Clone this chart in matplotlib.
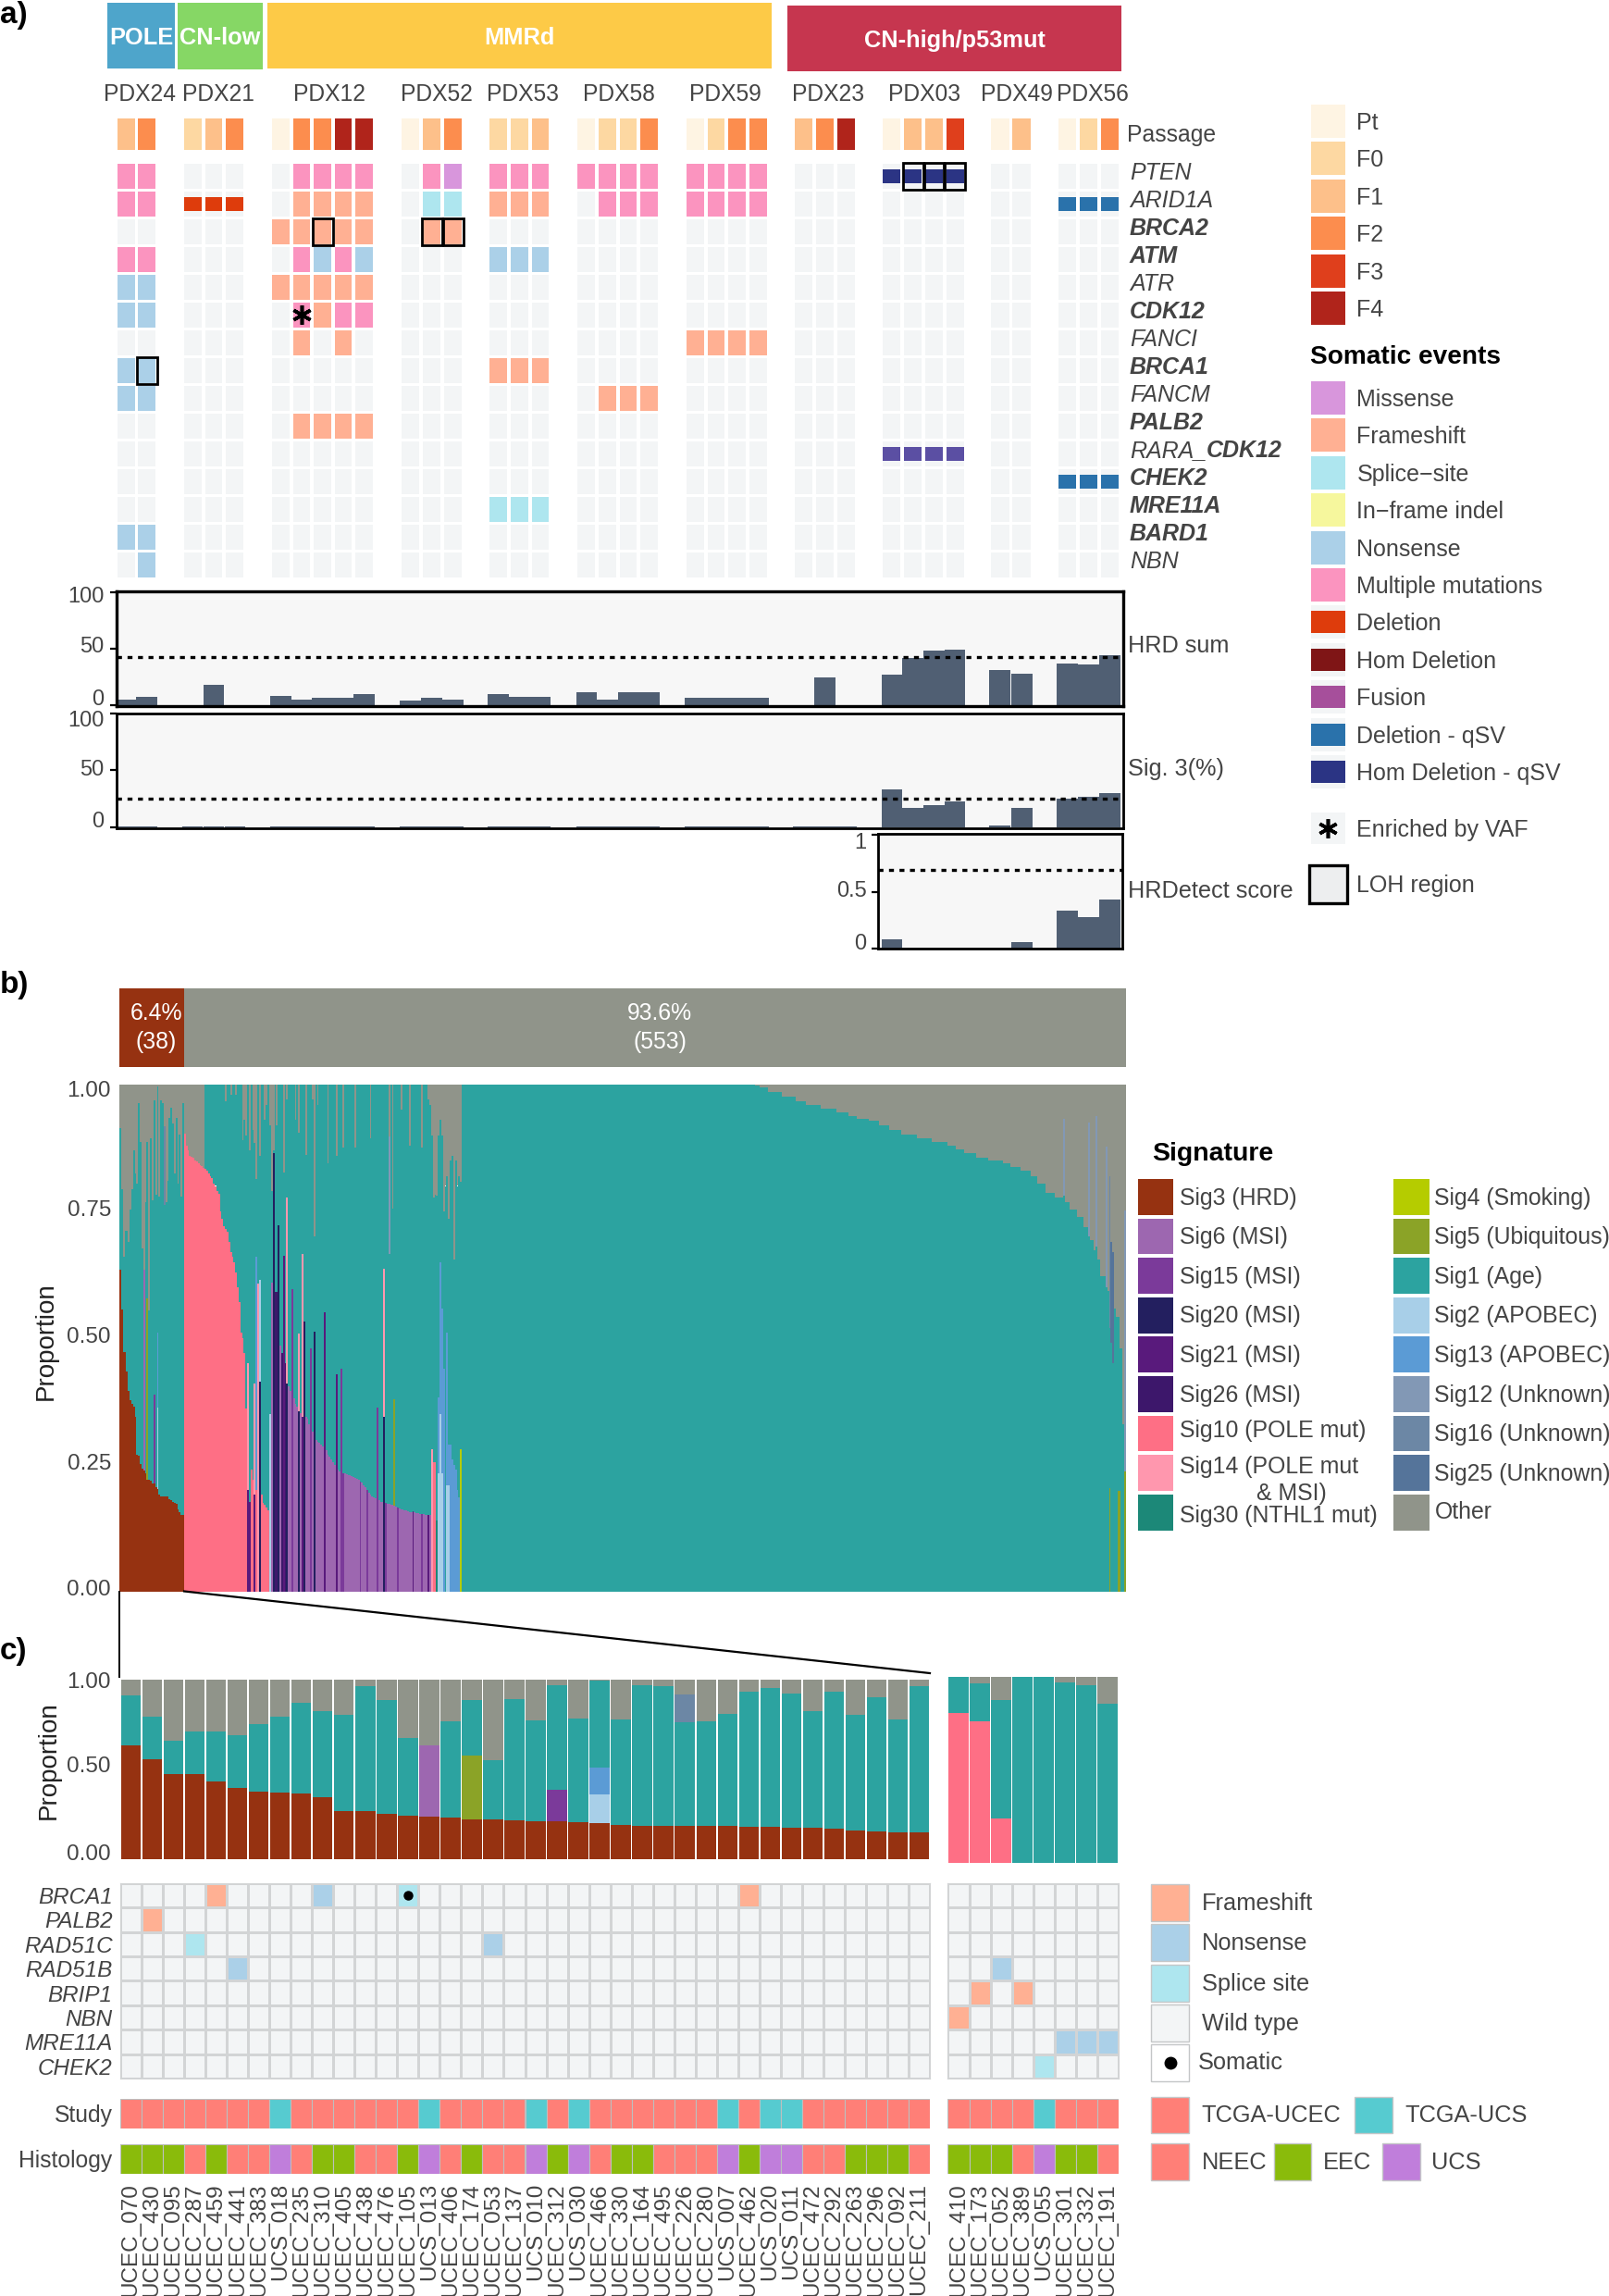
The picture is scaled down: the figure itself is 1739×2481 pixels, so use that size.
#!/usr/bin/env python3
"""Three panel figure: PDX oncoprint (a), signature stacks (b), HRD zoom-in (c)."""
import matplotlib
matplotlib.use("Agg")
import matplotlib.pyplot as plt
import numpy as np
from matplotlib.colors import ListedColormap
from matplotlib.patches import Rectangle

plt.rcParams["font.family"] = ["Liberation Sans", "DejaVu Sans"]

W, H = 1740, 2481
TXT = "#444444"

# ---- panel a data
pdx_names = ["PDX24", "PDX21", "PDX12", "PDX52", "PDX53", "PDX58", "PDX59", "PDX23", "PDX03", "PDX49", "PDX56"]
genes = ["PTEN", "ARID1A", "BRCA2", "ATM", "ATR", "CDK12", "FANCI", "BRCA1", "FANCM", "PALB2",
         "RARA_CDK12", "CHEK2", "MRE11A", "BARD1", "NBN"]
bold_genes = ["BRCA2", "ATM", "CDK12", "BRCA1", "PALB2", "CHEK2", "MRE11A", "BARD1"]
passages = [["F1", "F2"], ["F0", "F1", "F2"], ["Pt", "F2", "F2", "F4", "F4"], ["Pt", "F1", "F2"],
            ["F0", "F0", "F1"], ["Pt", "F0", "F0", "F2"], ["Pt", "F0", "F2", "F2"], ["F1", "F2", "F4"],
            ["Pt", "F1", "F1", "F3"], ["Pt", "F1"], ["Pt", "F0", "F2"]]
# one string per gene, one letter per passage; . = wild type
mut_pdx24 = ["XX", "XX", "..", "XX", "NN", "NN", "..", "NN", "NN", "..", "..", "..", "..", "NN", ".N"]
mut_pdx21 = ["...", "DDD"] + ["..."] * 13
mut_pdx12 = [".XXXX", ".FFFF", "FFFFF", ".XNXN", "FFFFF", ".XFXX", ".F.F.", ".....", ".....", ".FFFF"] + ["....."] * 5
mut_pdx52 = [".XM", ".SS", ".FF"] + ["..."] * 12
mut_pdx53 = ["XXX", "FFF", "...", "NNN", "...", "...", "...", "FFF", "...", "...", "...", "...", "SSS", "...", "..."]
mut_pdx58 = ["XXXX", ".XXX"] + ["...."] * 6 + [".FFF"] + ["...."] * 6
mut_pdx59 = ["XXXX", "XXXX", "....", "....", "....", "....", "FFFF"] + ["...."] * 8
mut_pdx23 = ["..."] * 15
mut_pdx03 = ["HHHH"] + ["...."] * 9 + ["UUUU"] + ["...."] * 4
mut_pdx49 = [".."] * 15
mut_pdx56 = ["...", "QQQ"] + ["..."] * 9 + ["QQQ"] + ["..."] * 3
mutations = [mut_pdx24, mut_pdx21, mut_pdx12, mut_pdx52, mut_pdx53, mut_pdx58, mut_pdx59, mut_pdx23,
             mut_pdx03, mut_pdx49, mut_pdx56]
# group, gene, passage
loh_boxes = [(0, "BRCA1", 1), (2, "BRCA2", 2), (3, "BRCA2", 1), (3, "BRCA2", 2), (8, "PTEN", 1), (8, "PTEN", 2), (8, "PTEN", 3)]
vaf_stars = [(2, "CDK12", 1)]

hrd_sum = [5, 7, 0, 18, 0, 8, 5, 6, 6, 10, 4, 6, 5, 10, 7, 7, 11, 5, 11, 11, 6, 6, 6, 6, 0, 24, 0,
           27, 42, 48, 49, 31, 28, 37, 36, 44]
sig3_pct = [1, 1, 1, 1, 1, 1, 1, 1, 1, 1, 1, 1, 1, 1, 1, 1, 1, 1, 1, 1, 1, 1, 1, 1, 1, 1, 1,
            33, 17, 19, 23, 1.5, 17, 25, 27, 30]
hrdetect = [.08, 0, 0, 0, 0, .06, .33, .28, .43]

# ---- panel b data, 591 samples
bar_counts = [38, 553]
bar_texts = ["6.4%\n(38)", "93.6%\n(553)"]
stack_order = ["Sig3", "Sig6", "Sig15", "Sig20", "Sig21", "Sig26", "Sig10", "Sig14", "Sig30", "Sig4", "Sig5",
               "Sig2", "Sig13", "Sig1", "Sig12", "Sig16", "Sig25", "Other"]
hrd_sig3 = [.635, .557, .473, .473, .434, .396, .377, .37, .365, .345, .269, .268, .252, .242, .238, .233, .221,
            .221, .218, .213, .213, .206, .202, .19, .187, .187, .187, .187, .187, .182, .18, .177, .175, .172,
            .161, .156, .151, .151]
hrd_sig1_top = [.914, .794, .66, .712, .712, .69, .753, .794, .871, .825, .804, .964, .887, .676, .635, .768, .887,
                .554, .894, .772, .969, .782, .997, .779, .969, .964, .763, .768, .81, .935, .954, .923, .825,
                .935, .804, .902, .779, .964]
hrd_extra = [(14, "Sig6", .397), (16, "Sig5", .357), (20, "Sig15", .176), (22, "Sig2", .16), (22, "Sig13", .149),
             (26, "Sig16", .155)]
pole_sig10 = [.904, .88, .87, .86, .858, .855, .85, .848, .845, .842, .84, .835, .833, .83, .825, .82, .815, .805,
              .80, .79, .785, .75, .735, .72, .715, .71, .69, .67, .66, .65, .63, .60, .57, .51, .50, .47, .36,
              .33, .31, .24, .22, .21, .20, .20, .195, .19, .175, .17, .165, .16]
msi_sig6 = [.62, .61, .60, .57, .53, .495, .485, .475, .465, .45, .42, .405, .395, .385, .38, .37, .365, .358, .352,
            .349, .347, .345, .34, .33, .325, .315, .30, .298, .295, .293, .29, .285, .282, .278, .27, .265, .26,
            .255, .25, .245, .24, .237, .236, .233, .232, .231, .23, .229, .228, .226, .224, .222, .22, .217, .214,
            .21, .205, .2, .195, .19, .187, .185, .183, .181, .179, .177, .176, .175, .174, .173, .172, .171, .17,
            .169, .167, .166, .164, .162, .161, .16, .159, .158, .157, .157, .156, .156, .155, .154, .153, .152,
            .152, .151, .151, .15, .15]
# sample, signature, height; these samples show these layers below Sig1 and nothing else
sample_layers = [(75, "Sig21", .2), (75, "Sig14", .25), (76, "Sig21", .177), (79, "Sig21", .19), (79, "Sig14", .22),
                 (80, "Sig10", .2), (80, "Sig13", .46), (81, "Sig14", .608), (82, "Sig20", .414), (82, "Sig2", .2),
                 (88, "Sig2", .35), (90, "Sig20", .865), (91, "Sig26", .59), (92, "Sig26", .59), (93, "Sig20", .722),
                 (95, "Sig26", .47), (96, "Sig21", .662), (97, "Sig26", .45), (98, "Sig20", .41), (98, "Sig14", .368),
                 (101, "Sig15", .596), (105, "Sig20", .355), (105, "Sig14", .154), (107, "Sig21", .345),
                 (107, "Sig14", .32), (108, "Sig20", .533), (112, "Sig15", .48), (114, "Sig20", .512),
                 (120, "Sig21", .551), (127, "Sig21", .428), (130, "Sig15", .439), (131, "Sig15", .233),
                 (141, "Sig15", .217), (145, "Sig15", .2), (151, "Sig15", .363), (155, "Sig20", .345),
                 (155, "Sig14", .291), (156, "Sig15", .174), (161, "Sig6", .169), (161, "Sig5", .21),
                 (163, "Sig15", .166), (172, "Sig21", .158), (177, "Sig15", .152), (181, "Sig21", .15),
                 (183, "Sig14", .28), (184, "Sig10", .254), (185, "Sig10", .254), (186, "Sig30", .14),
                 (187, "Sig2", .233), (187, "Sig13", .15), (188, "Sig2", .35), (188, "Sig13", .3), (189, "Sig2", .233),
                 (189, "Sig13", .325), (190, "Sig13", .44), (192, "Sig2", .21), (192, "Sig13", .3), (193, "Sig2", .21),
                 (193, "Sig13", .08), (194, "Sig13", .29), (195, "Sig13", .26), (196, "Sig13", .25),
                 (197, "Sig13", .24), (198, "Sig13", .2), (199, "Sig13", .185), (200, "Sig4", .28),
                 (581, "Sig5", .203), (586, "Sig5", .198), (587, "Sig5", .198), (590, "Sig5", .236)]
# sample, top of Sig1 where it does not reach 1.00
sig1_notches = [(62, .967), (65, .98), (68, .98), (72, .89), (73, .93), (74, .90), (76, .87), (78, .91), (79, .885),
                (80, .813), (82, .86), (85, .93), (86, .96), (88, .92), (89, .79), (90, .87), (92, .92), (96, .827),
                (98, .97), (103, .93), (105, .905), (109, .861), (113, .97), (114, .70), (116, .96), (122, .844),
                (127, .86), (131, .875), (138, .876), (147, .894), (160, .755), (165, .95), (170, .88), (177, .875),
                (181, .97), (182, .96), (183, .90), (184, .778), (185, .782), (186, .78), (187, .90), (188, .93),
                (189, .90), (190, .75), (191, .80), (192, .82), (193, .736), (194, .85), (195, .86), (196, .655),
                (197, .85), (198, .80), (199, .82), (200, .808)]
# first samples of the Sig10 block carry no Sig1 at all
no_sig1_samples = [38, 39, 40, 41, 42, 43, 44, 45, 46, 47, 48, 49]
tail_sig1_top = [.998, .994, .985, .976, .968, .96, .953, .945, .938, .933, .928, .92, .91, .902, .894, .887, .88,
                 .872, .864, .856, .851, .845, .838, .83, .82, .804, .787, .778, .768, .753, .739, .718, .693, .673,
                 .654, .622, .593, .575, .558, .542, .48, .33]
tail_runs = [3, 5, 8, 8, 6, 9, 9, 7, 5, 7, 6, 6, 7, 9, 9, 9, 5, 5, 7, 7, 9, 4, 6, 6, 4, 5, 5, 5, 4, 4, 4, 3, 3, 2,
             2, 3, 2, 2, 2, 2, 2, 2]
# sample, signature, top of Sig1, height of the signature above it
upper_spikes = [(158, "Sig12", .666, .231), (554, "Sig12", .78, .152), (569, "Sig12", .70, .226),
                (573, "Sig12", .68, .257), (579, "Sig12", .60, .277), (581, "Sig16", .52, .30),
                (582, "Sig25", .49, .20), (583, "Sig25", .45, .22), (590, "Sig12", .236, .515)]

# ---- panel c data
left_samples = ["UCEC_070", "UCEC_430", "UCEC_095", "UCEC_287", "UCEC_459", "UCEC_441", "UCEC_383", "UCS_018",
                "UCEC_235", "UCEC_310", "UCEC_405", "UCEC_438", "UCEC_476", "UCEC_105", "UCS_013", "UCEC_406",
                "UCEC_174", "UCEC_053", "UCEC_137", "UCS_010", "UCEC_312", "UCS_030", "UCEC_466", "UCEC_330",
                "UCEC_164", "UCEC_495", "UCEC_226", "UCEC_280", "UCS_007", "UCEC_462", "UCS_020", "UCS_011",
                "UCEC_472", "UCEC_292", "UCEC_263", "UCEC_296", "UCEC_092", "UCEC_211"]
right_samples = ["UCEC_410", "UCEC_173", "UCEC_052", "UCEC_389", "UCS_055", "UCEC_301", "UCEC_332", "UCEC_191"]
right_sig10 = [.806, .763, .237, 0, 0, 0, 0, 0]
right_sig1_top = [1.0, .966, .877, 1.0, 1.0, .971, .955, .857]
hrr_genes = ["BRCA1", "PALB2", "RAD51C", "RAD51B", "BRIP1", "NBN", "MRE11A", "CHEK2"]
left_events = [("BRCA1", 4, "Frameshift"), ("BRCA1", 9, "Nonsense"), ("BRCA1", 13, "Splice site"),
               ("BRCA1", 29, "Frameshift"), ("PALB2", 1, "Frameshift"), ("RAD51C", 3, "Splice site"),
               ("RAD51C", 17, "Nonsense"), ("RAD51B", 5, "Nonsense")]
right_events = [("RAD51B", 2, "Nonsense"), ("BRIP1", 1, "Frameshift"), ("BRIP1", 3, "Frameshift"),
                ("NBN", 0, "Frameshift"), ("MRE11A", 5, "Nonsense"), ("MRE11A", 6, "Nonsense"),
                ("MRE11A", 7, "Nonsense"), ("CHEK2", 4, "Splice site")]
left_histology = list("EEENENNUNEENNEUNENNUEUNEENNNUEUUNNEEEN")
right_histology = list("EEENUEEN")

# ---- colours
passage_colors = {"Pt": "#FEF4E3", "F0": "#FDD8A2", "F1": "#FDC08A", "F2": "#FC8D4E", "F3": "#DF3F1C", "F4": "#B0241B"}
event_colors = {"Missense": "#D896DC", "Frameshift": "#FFB093", "Splice\u2212site": "#AEE6EF",
                "In\u2212frame indel": "#F6F79D", "Nonsense": "#ABD0E8", "Multiple mutations": "#FB94BF",
                "Deletion": "#DE3C0C", "Hom Deletion": "#7F1516", "Fusion": "#A64F9B",
                "Deletion - qSV": "#2A72AB", "Hom Deletion - qSV": "#2B3484"}
half_events = ["Deletion", "Hom Deletion", "Fusion", "Deletion - qSV", "Hom Deletion - qSV"]
code_colors = {"M": "#D896DC", "F": "#FFB093", "S": "#AEE6EF", "N": "#ABD0E8", "X": "#FB94BF", "D": "#DE3C0C",
               "Q": "#2A72AB", "H": "#2B3484", "U": "#5B4FA3"}
half_codes = "DQHU"
WT = "#F3F5F6"
sig_colors = {"Sig3": "#963211", "Sig6": "#9D67B0", "Sig15": "#7B3A9A", "Sig20": "#231F5F", "Sig21": "#591A7C",
              "Sig26": "#3D176B", "Sig10": "#FE6F85", "Sig14": "#FF97AE", "Sig30": "#1C8878", "Sig4": "#B5CC00",
              "Sig5": "#8BA327", "Sig1": "#2CA3A0", "Sig2": "#A8CFE8", "Sig13": "#5B9BD5", "Sig12": "#8298B5",
              "Sig16": "#6C87A5", "Sig25": "#55749A", "Other": "#90948A"}
grid_colors = {"Wild type": WT, "Frameshift": "#FFB093", "Nonsense": "#ABD0E8", "Splice site": "#AEE6EF"}
study_colors = {"TCGA-UCEC": "#FF7F77", "TCGA-UCS": "#56CBD0"}
hist_colors = {"N": "#FF7F77", "E": "#8ABB0B", "U": "#C07EDB"}

# ---- layout, pixels
group_px = [(127, 168), (198.7, 263.3), (294, 403), (434, 498.8), (529, 593.4), (624.5, 711), (742, 828.6),
            (859, 924), (954.5, 1041.5), (1071, 1114), (1144, 1209)]
label_cx = [151, 236, 355.6, 471.5, 564.8, 669, 784, 895, 999, 1098.8, 1181]
CELL_GAP = 3.9

fig = plt.figure(figsize=(W / 100, H / 100), dpi=100)


def px_axes(l, t, r, b, **kw):
    return fig.add_axes([l / W, 1 - b / H, (r - l) / W, (b - t) / H], **kw)


ov = fig.add_axes([0, 0, 1, 1], zorder=20)
ov.set_xlim(0, W)
ov.set_ylim(H, 0)
ov.axis("off")


def swatch(x0, y0, x1, y1, color, **kw):
    ov.add_patch(Rectangle((x0, y0), x1 - x0, y1 - y0, facecolor=color, edgecolor=kw.pop("edgecolor", "none"), **kw))


def label(x, y, s, size=18, color=TXT, **kw):
    kw.setdefault("va", "center")
    return ov.text(x, y + 2, s, fontsize=size, color=color, **kw)


def tick_texts(x, ys, texts, size):
    # the printed labels sit a little off their ticks at the panel ends
    for y, s in zip(ys, texts):
        label(x, y - 2, s, size=size, ha="right")


# ---- panel a: header strip
for x0, y0, x1, y1, c, s in [(116, 3, 189, 74, "#4EA5CB", "POLE"), (192, 2.5, 284, 75, "#86D765", "CN-low"),
                             (289.5, 3, 834, 74, "#FDCA47", "MMRd"), (851, 6, 1212, 77, "#C6364F", "CN-high/p53mut")]:
    swatch(x0, y0, x1, y1, c)
    label((x0 + x1) / 2, (y0 + y1) / 2, s, size=18.3, color="white", ha="center", fontweight="bold")

col_centers = []
for g, (x0, x1) in enumerate(group_px):
    n = len(passages[g])
    left, right = x0 - CELL_GAP / 2, x1 + CELL_GAP / 2
    pitch = (right - left) / n
    col_centers.extend(left + (j + .5) * pitch for j in range(n))
    label(label_cx[g], 100, pdx_names[g], size=17.7, ha="center")

    ax = px_axes(left, 128, right, 161.6)
    ax.axis("off")
    ax.set_xlim(0, n)
    ax.set_ylim(0, 1)
    ax.bar(np.arange(n) + .5, 1, width=.83, color=[passage_colors[p] for p in passages[g]], linewidth=0)

    ax = px_axes(left, 175.6, right, 625.2)
    ax.axis("off")
    ax.set_xlim(0, n)
    ax.set_ylim(len(genes), 0)
    for r, row in enumerate(mutations[g]):
        ax.bar(np.arange(n) + .5, .9, bottom=r + .05, width=.83, color=WT, linewidth=0)
        for j, code in enumerate(row):
            if code == ".":
                continue
            h = .52 if code in half_codes else .9
            ax.bar(j + .5, h, bottom=r + .5 - h / 2, width=.83, color=code_colors[code], linewidth=0)
    for bg, gene, j in loh_boxes:
        if bg == g:
            ax.add_patch(Rectangle((j + .03, genes.index(gene) + .02), .96, .96, fill=False, edgecolor="black",
                                   linewidth=2, clip_on=False, zorder=5))
    for bg, gene, j in vaf_stars:
        if bg == g:
            ax.plot(j + .5, genes.index(gene) + .5, marker=(6, 2, 0), color="black", ms=15, mew=2.6, zorder=6)

label(1218, 143.5, "Passage", size=17.8)
rend = fig.canvas.get_renderer()
for r, gene in enumerate(genes):
    y = 185.3 + 29.96 * r
    if gene == "RARA_CDK12":
        t = label(1221, y, "RARA_", size=18, style="italic")
        x_end = ov.transData.inverted().transform((t.get_window_extent(rend).x1, 0))[0]
        label(x_end, y, "CDK12", size=18, style="italic", fontweight="bold")
    else:
        label(1221, y, gene, size=18, style="italic", fontweight="bold" if gene in bold_genes else "normal")


# ---- panel a: score bars
def score_axes(l, t, r, b, values, y_lim, ticks, cut, lw):
    ax = px_axes(l, t, r, b)
    ax.set_facecolor("#F7F7F7")
    ax.set_xlim(l, r)
    ax.set_ylim(*y_lim)
    ax.bar(col_centers[-len(values):], values, width=22.6, color="#505F73", linewidth=0)
    ax.axhline(cut, color="black", lw=2.4, ls=(0, (1.6, 1.8)))
    ax.set_xticks([])
    ax.set_yticks(ticks, [""] * len(ticks))
    ax.tick_params(axis="y", length=5, width=1.6, pad=2)
    for sp in ax.spines.values():
        sp.set_linewidth(lw)
    return ax


score_axes(126, 639, 1214, 763, hrd_sum, (-1.07, 100.8), [0, 50, 100], 42.5, 2.4)
score_axes(126, 771, 1214, 895, sig3_pct, (-1, 100), [0, 50, 100], 25, 2.0)
score_axes(949.4, 901, 1212.7, 1025, hrdetect, (0, 1.01), [0, .5, 1], .695, 2.0)
tick_texts(112.6, [645, 699, 756], ["100", "50", "0"], 17)
tick_texts(112.6, [779, 831.7, 888], ["100", "50", "0"], 17)
tick_texts(936.6, [910.7, 963, 1020], ["1", "0.5", "0"], 17)
for y, s in [(696, "HRD sum"), (829, "Sig. 3(%)"), (961, "HRDetect score")]:
    label(1219, y, s, size=18.2)

# ---- panel a: legend
for k, (name, c) in enumerate(passage_colors.items()):
    y = 131 + 40.4 * k
    swatch(1417, y - 18, 1454, y + 18, c)
    label(1466.5, y, name)
label(1416, 384, "Somatic events", size=20.2, color="black", fontweight="bold")
for k, (name, c) in enumerate(event_colors.items()):
    y = 430 + 40.4 * k
    swatch(1417, y - 18, 1454, y + 18, WT)
    if name in half_events:
        swatch(1417, y - 12, 1454, y + 12, c)
    else:
        swatch(1417, y - 18, 1454, y + 18, c)
    label(1466.5, y, name)
swatch(1417, 878, 1454, 912, WT)
ov.plot(1435.5, 895, marker=(6, 2, 0), color="black", ms=15, mew=2.6)
label(1466.5, 895, "Enriched by VAF")
swatch(1415, 935, 1456, 976, "#EDEEEF", edgecolor="black", linewidth=2.4)
label(1466.5, 955, "LOH region")

# ---- panel b: stacked header bar
ax = px_axes(129, 1068.3, 1217, 1153.3)
ax.axis("off")
ax.set_xlim(0, sum(bar_counts))
ax.set_ylim(0, 1)
ax.barh(.5, bar_counts[0], height=1, color=sig_colors["Sig3"], linewidth=0)
ax.barh(.5, bar_counts[1], height=1, left=bar_counts[0], color=sig_colors["Other"], linewidth=0)
ax.text(bar_counts[0] / 2 + 2.7, .5, bar_texts[0], color="white", fontsize=17.8, ha="center", va="center",
        linespacing=1.36)
ax.text(bar_counts[0] + bar_counts[1] / 2 + 2.7, .5, bar_texts[1], color="white", fontsize=17.8, ha="center",
        va="center", linespacing=1.36)

# ---- panel b: 591 sample stack
N = sum(bar_counts)
layers = {s: np.zeros(N) for s in stack_order}
sig1_top = np.ones(N)
layers["Sig3"][:38] = hrd_sig3
sig1_top[:38] = hrd_sig1_top
for i, s, v in hrd_extra:
    layers[s][i] = v
layers["Sig10"][38:88] = pole_sig10
layers["Sig6"][88:183] = msi_sig6
for i, v in sig1_notches:
    sig1_top[i] = v
for i in no_sig1_samples:
    sig1_top[i] = layers["Sig10"][i]
sig1_top[373:] = np.repeat(tail_sig1_top, tail_runs)
seen = set()
for i, s, v in sample_layers:
    if i not in seen:
        layers["Sig10"][i] = 0
        layers["Sig6"][i] = 0
        seen.add(i)
    layers[s][i] = v
for i, s, t, v in upper_spikes:
    sig1_top[i] = t
    layers[s][i] = v
below = ["Sig3", "Sig6", "Sig15", "Sig20", "Sig21", "Sig26", "Sig10", "Sig14", "Sig30", "Sig4", "Sig5", "Sig2", "Sig13"]
base = sum(layers[s] for s in below)
layers["Sig1"] = np.clip(sig1_top - base, 0, None)
layers["Other"] = np.clip(1 - base - layers["Sig1"] - layers["Sig12"] - layers["Sig16"] - layers["Sig25"], 0, None)

ax = px_axes(129, 1172, 1217, 1719.5)
cum = np.zeros(N)
for s in stack_order:
    keep = layers[s] > 0
    ax.bar(np.arange(N)[keep] + .5, layers[s][keep], bottom=cum[keep], width=1, color=sig_colors[s], linewidth=0,
           antialiased=False)
    cum += layers[s]
ax.set_xlim(0, N)
ax.set_ylim(0, 1)
ax.set_xticks([])
ax.set_yticks([])
for sp in ax.spines.values():
    sp.set_visible(False)
tick_texts(120, [1178.7, 1307.7, 1444.7, 1581.7, 1718], ["1.00", "0.75", "0.50", "0.25", "0.00"], 17.5)
label(50, 1447, "Proportion", size=20, color="#222222", rotation=90, ha="center")

# ---- panel b: legend
label(1245.5, 1244.7, "Signature", size=20.5, color="black", fontweight="bold")
col1 = [("Sig3", "Sig3 (HRD)"), ("Sig6", "Sig6 (MSI)"), ("Sig15", "Sig15 (MSI)"), ("Sig20", "Sig20 (MSI)"),
        ("Sig21", "Sig21 (MSI)"), ("Sig26", "Sig26 (MSI)"), ("Sig10", "Sig10 (POLE mut)"),
        ("Sig14", "Sig14 (POLE mut"), ("Sig30", "Sig30 (NTHL1 mut)")]
col2 = [("Sig4", "Sig4 (Smoking)"), ("Sig5", "Sig5 (Ubiquitous)"), ("Sig1", "Sig1 (Age)"), ("Sig2", "Sig2 (APOBEC)"),
        ("Sig13", "Sig13 (APOBEC)"), ("Sig12", "Sig12 (Unknown)"), ("Sig16", "Sig16 (Unknown)"),
        ("Sig25", "Sig25 (Unknown)"), ("Other", "Other")]
col1_text_y = [1292.7, 1335.3, 1377.9, 1420.5, 1463, 1505.6, 1544, 1582.7, 1635.7]
col2_text_y = [1292.7, 1335.3, 1377.9, 1420.5, 1463, 1505.6, 1548, 1590.6, 1632]
for k in range(9):
    y = 1274 + 42.6 * k
    swatch(1230, y, 1268.5, y + 38.7, sig_colors[col1[k][0]])
    label(1275, col1_text_y[k], col1[k][1], size=17.9)
    swatch(1506.5, y, 1545, y + 38.7, sig_colors[col2[k][0]])
    label(1550.5, col2_text_y[k], col2[k][1], size=17.9)
label(1396, 1612, "& MSI)", size=17.9, ha="center")

# ---- panel c: stacks, left group shares the first 38 samples of panel b
ax = px_axes(130, 1815, 1005, 2009)
cum = np.zeros(38)
for s in stack_order:
    ax.bar(np.arange(38) + .5, layers[s][:38], bottom=cum, width=.93, color=sig_colors[s], linewidth=0)
    cum += layers[s][:38]
ax.set_xlim(0, 38)
ax.set_ylim(0, 1)
ax.set_xticks([])
ax.set_yticks([])
for sp in ax.spines.values():
    sp.set_visible(False)
tick_texts(120, [1818, 1909, 2004], ["1.00", "0.50", "0.00"], 17.5)
label(53, 1900, "Proportion", size=20, color="#222222", rotation=90, ha="center")

ax = px_axes(1024.5, 1812, 1208.6, 2012.5)
sig10 = np.array(right_sig10)
top = np.array(right_sig1_top)
xs = np.arange(8) + .5
ax.bar(xs, sig10, width=.95, color=sig_colors["Sig10"], linewidth=0)
ax.bar(xs, top - sig10, bottom=sig10, width=.95, color=sig_colors["Sig1"], linewidth=0)
ax.bar(xs, 1 - top, bottom=top, width=.95, color=sig_colors["Other"], linewidth=0)
ax.set_xlim(0, 8)
ax.set_ylim(0, 1)
ax.axis("off")

# zoom connector between b and c
ov.plot([199, 1005], [1719.5, 1808], color="black", lw=1.6)
ov.plot([129, 129], [1720, 1812], color="black", lw=1.4)


# ---- panel c: gene grid and annotation strips
def grid_axes(l, r, samples, events, histology, show_labels):
    n = len(samples)
    names = list(grid_colors)
    mat = np.zeros((len(hrr_genes), n), dtype=int)
    for gene, j, kind in events:
        mat[hrr_genes.index(gene), j] = names.index(kind)
    ax = px_axes(l, 2034.7, r, 2246)
    ax.pcolormesh(np.arange(n + 1), np.arange(len(hrr_genes) + 1), mat, cmap=ListedColormap(list(grid_colors.values())),
                  vmin=0, vmax=len(names) - 1, edgecolors="#D2D4D5", linewidth=.8)
    ax.set_ylim(len(hrr_genes), 0)
    ax.set_xticks([])
    ax.tick_params(axis="y", length=0, pad=6)
    ax.set_yticks(np.arange(len(hrr_genes)) + .5, hrr_genes if show_labels else [""] * len(hrr_genes), fontsize=17.5,
                  color=TXT, style="italic")
    for sp in ax.spines.values():
        sp.set_color("#D2D4D5")

    for t, b, codes, name in [(2268, 2300, None, "Study"), (2316.7, 2348.7, histology, "Histology")]:
        ax2 = px_axes(l, t, r, b)
        if codes is None:
            cols = [study_colors["TCGA-UCS" if s.startswith("UCS") else "TCGA-UCEC"] for s in samples]
        else:
            cols = [hist_colors[c] for c in codes]
        ax2.bar(np.arange(n) + .5, 1, width=1, color=cols, edgecolor="#BDBFBF", linewidth=.8)
        ax2.set_xlim(0, n)
        ax2.set_ylim(0, 1)
        ax2.set_yticks([.5], [name] if show_labels else [""], fontsize=17.8, color=TXT)
        ax2.tick_params(axis="y", length=0, pad=6)
        ax2.set_xticks([])
        for sp in ax2.spines.values():
            sp.set_visible(False)
    ax2.set_xticks(np.arange(n) + .5, samples, rotation=90, fontsize=17.5, color=TXT, va="top", ha="center")
    ax2.tick_params(axis="x", length=0, pad=7.5)
    return ax


ax = grid_axes(130, 1005, left_samples, left_events, left_histology, True)
ax.plot(13.5, .5, marker="o", color="black", ms=6.5, zorder=5)
grid_axes(1024.5, 1208.6, right_samples, right_events, right_histology, False)

# ---- panel c: legends
for k, name in enumerate(["Frameshift", "Nonsense", "Splice site", "Wild type"]):
    y = 2035.7 + 43.5 * k
    swatch(1244.5, y, 1285.5, y + 40, grid_colors[name], edgecolor="#C4C6C7", linewidth=1)
    label(1299, y + 19, name, size=18.3)
swatch(1244.5, 2209, 1285.5, 2249, "white", edgecolor="#C4C6C7", linewidth=1)
ov.plot(1265, 2229, marker="o", color="black", ms=9)
label(1295, 2227, "Somatic", size=18.3)
for x0, x1, xt, name in [(1244.5, 1285.5, 1298, "TCGA-UCEC"), (1464, 1505, 1518, "TCGA-UCS")]:
    swatch(x0, 2265.5, x1, 2305, study_colors[name], edgecolor="#C4C6C7", linewidth=1)
    label(xt, 2284, name, size=18.3)
for x0, x1, xt, code, name in [(1244.5, 1285.5, 1299, "N", "NEEC"), (1376.6, 1417, 1430, "E", "EEC"),
                               (1494, 1535, 1547, "U", "UCS")]:
    swatch(x0, 2316, x1, 2356, hist_colors[code], edgecolor="#C4C6C7", linewidth=1)
    label(xt, 2335, name, size=18.3)

# panel letters
for y, s in [(14, "a)"), (1063, "b)"), (1783, "c)")]:
    label(0, y, s, size=24, color="black", fontweight="bold")

fig.savefig("out.png", dpi=100)
